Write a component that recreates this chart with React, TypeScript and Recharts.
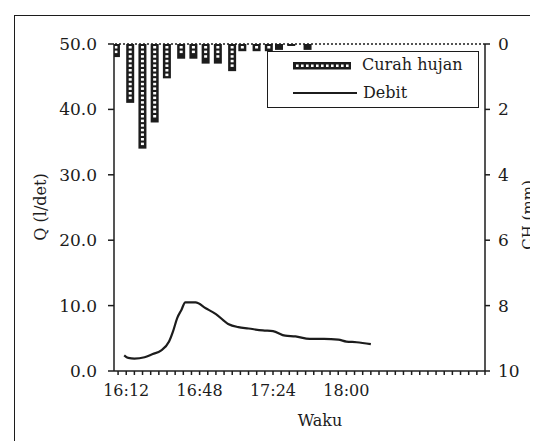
import React from "react";
import {
  ComposedChart,
  Bar,
  Line,
  XAxis,
  YAxis,
  Legend,
  ReferenceLine,
} from "recharts";

// rainfall (CH, mm) per interval
const rainTimes = [
  "16:07", "16:14", "16:20", "16:26", "16:32", "16:39", "16:45", "16:51",
  "16:57", "17:04", "17:09", "17:16", "17:22", "17:27", "17:33", "17:41",
];
const rainMm = [
  0.4, 1.8, 3.2, 2.4, 1.05, 0.45, 0.45, 0.6,
  0.6, 0.83, 0.22, 0.22, 0.22, 0.18, 0.06, 0.18,
];

// discharge Q (l/det)
const flowTimes = [
  "16:11", "16:13", "16:16", "16:21", "16:25", "16:29", "16:33", "16:35",
  "16:37", "16:39", "16:41", "16:46", "16:51", "16:56", "17:02", "17:07",
  "17:12", "17:19", "17:24", "17:30", "17:35", "17:42", "17:49", "17:56",
  "18:00", "18:05", "18:12",
];
const flowQ = [
  2.4, 2.0, 1.9, 2.1, 2.6, 3.1, 4.5, 6.1,
  8.1, 9.3, 10.5, 10.5, 9.6, 8.7, 7.2, 6.7,
  6.5, 6.2, 6.1, 5.4, 5.3, 4.9, 4.9, 4.8,
  4.5, 4.4, 4.1,
];

const timeLabels = ["16:12", "16:48", "17:24", "18:00"];
const qTicks = [0, 10, 20, 30, 40, 50];
const chTicks = [0, 2, 4, 6, 8, 10];

const toMin = (s: string) => {
  const [h, m] = s.split(":").map(Number);
  return h * 60 + m;
};
const fmt = (v: number) => `${Math.floor(v / 60)}:${String(v % 60).padStart(2, "0")}`;

const rows = [
  ...rainTimes.map((t, i) => ({ t: toMin(t), rain: rainMm[i] })),
  ...flowTimes.map((t, i) => ({ t: toMin(t), q: flowQ[i] })),
].sort((a, b) => a.t - b.t);

const labelSet = new Set(timeLabels.map(toMin));
const minorTicks = Array.from({ length: 46 }, (_, i) => 968 + i * 4);

const FONT = "'DejaVu Serif', 'Liberation Serif', serif";
const INK = "#1c1c1c";
const BAR_W = 8;

// black column with a stack of small white holes, like the printed hatch
const RainShape = (props: any) => {
  const { x, y, width, height } = props;
  const top = Math.min(y, y + height);
  const h = Math.abs(height);
  if (!h) return null;
  const left = x + width / 2 - BAR_W / 2;
  const holes = [];
  for (let yy = top + 2; yy + 2.5 <= top + h - 1.5; yy += 4.6) {
    holes.push(
      <rect key={yy} x={left + 2.5} y={yy} width={3} height={2.5} fill="#fff" />
    );
  }
  return (
    <g>
      <rect x={left} y={top} width={BAR_W} height={Math.max(h, 2)} fill={INK} />
      {holes}
    </g>
  );
};

const LegendBox = () => {
  const holes = [];
  for (let i = 0; i < 11; i++) {
    holes.push(<rect key={i} x={3 + i * 5} y={2.5} width={2.6} height={2.5} fill="#fff" />);
  }
  return (
    <div
      style={{
        border: `1.5px solid ${INK}`,
        background: "#fff",
        width: 212,
        height: 57,
        boxSizing: "border-box",
        fontFamily: FONT,
        fontSize: 16,
        color: INK,
        position: "relative",
      }}
    >
      <svg width={58} height={8} style={{ position: "absolute", left: 25, top: 10 }}>
        <rect x={0} y={0} width={58} height={7.5} fill={INK} />
        {holes}
      </svg>
      <span style={{ position: "absolute", left: 94, top: 3 }}>Curah hujan</span>
      <svg width={64} height={4} style={{ position: "absolute", left: 25, top: 39 }}>
        <line x1={0} y1={2} x2={64} y2={2} stroke={INK} strokeWidth={2} />
      </svg>
      <span style={{ position: "absolute", left: 95, top: 31 }}>Debit</span>
    </div>
  );
};

export default function App() {
  return (
    <div
      style={{
        position: "relative",
        width: 538,
        height: 441,
        marginLeft: -8,
        marginTop: -8,
        overflow: "hidden",
        background: "#fff",
      }}
    >
      <div
        style={{
          position: "absolute",
          left: 14,
          top: 15,
          width: 600,
          height: 500,
          borderLeft: `1.5px solid ${INK}`,
          borderTop: `1.5px solid ${INK}`,
        }}
      />
      <div style={{ position: "absolute", left: 0, top: 0 }}>
        <ComposedChart
          width={538}
          height={441}
          data={rows}
          margin={{ top: 44, right: 8, bottom: 30, left: 0 }}
        >
          <XAxis
            dataKey="t"
            type="number"
            domain={[966, 1148]}
            allowDataOverflow
            ticks={minorTicks}
            interval={0}
            tickFormatter={(v: number) => (labelSet.has(v) ? fmt(v) : "")}
            tickSize={4}
            tickMargin={10}
            height={40}
            stroke={INK}
            strokeWidth={1.5}
            tick={{ fill: INK, fontSize: 16, fontFamily: FONT }}
            label={{
              content: () => (
                <text x={320} y={426} textAnchor="middle" fill={INK} fontSize={16} fontFamily={FONT}>
                  Waku
                </text>
              ),
            }}
          />
          <YAxis
            yAxisId="q"
            orientation="left"
            domain={[0, 50]}
            ticks={qTicks}
            tickFormatter={(v: number) => v.toFixed(1)}
            width={114}
            tickSize={6}
            tickMargin={11}
            stroke={INK}
            strokeWidth={1.5}
            tick={{ fill: INK, fontSize: 17, fontFamily: FONT }}
            label={{
              content: () => (
                <text
                  x={40}
                  y={207}
                  transform="rotate(-90 40 207)"
                  textAnchor="middle"
                  dominantBaseline="central"
                  fill={INK}
                  fontSize={16}
                  fontFamily={FONT}
                >
                  Q (l/det)
                </text>
              ),
            }}
          />
          <YAxis
            yAxisId="rain"
            orientation="right"
            domain={[0, 10]}
            reversed
            ticks={chTicks}
            width={45}
            tickSize={5}
            tickMargin={8}
            stroke={INK}
            strokeWidth={1.5}
            tick={{ fill: INK, fontSize: 17, fontFamily: FONT }}
            label={{
              content: () => (
                <text
                  x={528}
                  y={215}
                  transform="rotate(-90 528 215)"
                  textAnchor="middle"
                  dominantBaseline="central"
                  fill={INK}
                  fontSize={15}
                  fontFamily={FONT}
                >
                  CH (mm)
                </text>
              ),
            }}
          />
          <ReferenceLine yAxisId="rain" y={0} stroke={INK} strokeWidth={1.5} strokeDasharray="2 2" />
          <Bar
            yAxisId="rain"
            dataKey="rain"
            name="Curah hujan"
            barSize={BAR_W}
            shape={RainShape}
            isAnimationActive={false}
          />
          <Line
            yAxisId="q"
            dataKey="q"
            name="Debit"
            type="monotone"
            stroke={INK}
            strokeWidth={2.2}
            dot={false}
            connectNulls
            isAnimationActive={false}
          />
          <Legend
            layout="vertical"
            align="center"
            verticalAlign="middle"
            content={() => <LegendBox />}
            wrapperStyle={{ top: 51, left: 267, width: 212, height: 57 }}
          />
        </ComposedChart>
      </div>
    </div>
  );
}
